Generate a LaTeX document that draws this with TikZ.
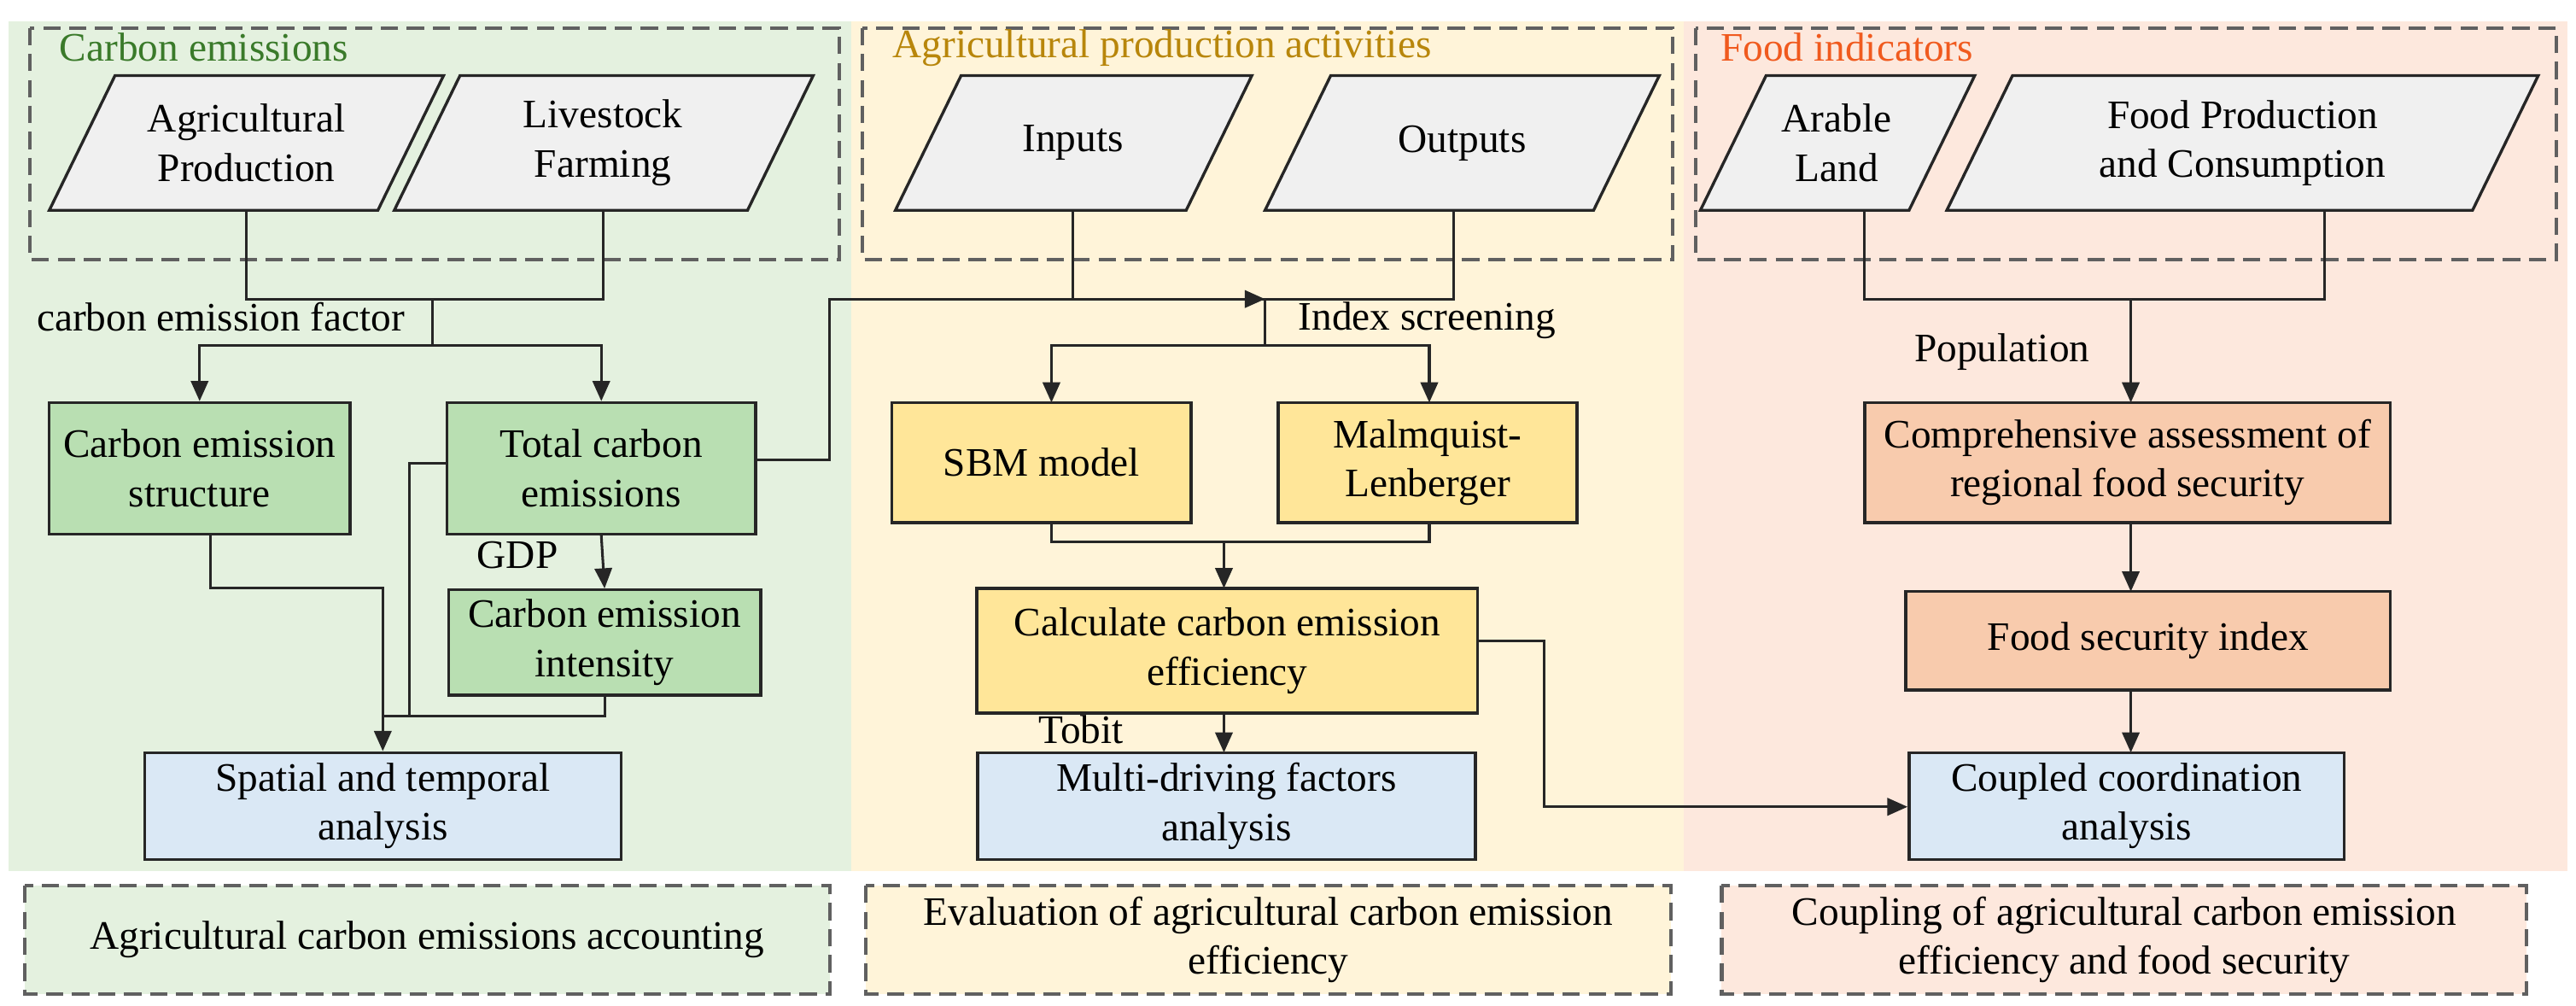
\documentclass[tikz,border=0pt]{standalone}
\usepackage{fontspec}
\setmainfont{Liberation Serif}
\usetikzlibrary{arrows.meta}
\definecolor{bgG}{HTML}{E4F1DF}
\definecolor{bgY}{HTML}{FFF4D9}
\definecolor{bgP}{HTML}{FDE8DD}
\definecolor{bxG}{HTML}{B9DFB2}
\definecolor{bxY}{HTML}{FFE699}
\definecolor{bxP}{HTML}{F8CBAD}
\definecolor{bxB}{HTML}{DAE8F5}
\definecolor{para}{HTML}{F0F0F0}
\definecolor{tG}{HTML}{3A7A2A}
\definecolor{tY}{HTML}{B8860B}
\definecolor{tP}{HTML}{F05A1E}
\definecolor{dsh}{HTML}{606060}
\tikzset{
 x=0.02cm,y=-0.02cm,
 every node/.style={font=\fontsize{14}{17}\selectfont, align=center, inner sep=0pt},
 box/.style 2 args={draw=black!85, line width=1pt, minimum width={#1*0.02cm}, minimum height={#2*0.02cm}},
 dbox/.style={draw=dsh, dashed, dash pattern=on 6pt off 3pt, line width=1.2pt},
 pgram/.style={draw=black!85, line width=1pt, fill=para},
 conn/.style={line width=0.9pt, draw=black!85},
 arr/.style={conn, -{Triangle[length=7pt,width=6pt]}},
 lbl/.style={font=\fontsize{14}{17}\selectfont},
}
\begin{document}
\begin{tikzpicture}
\useasboundingbox (0,0) rectangle (1568,612);
% backgrounds
\fill[bgG] (5,13) rectangle (518,530);
\fill[bgY] (518,13) rectangle (1025,530);
\fill[bgP] (1025,13) rectangle (1563,530);
% top dashed groups
\draw[dbox] (18,17) rectangle (511,158);
\draw[dbox] (525,17) rectangle (1018,158);
\draw[dbox] (1032,17) rectangle (1556,158);
\node[anchor=west,text=tG] (t1) at (36,29) {Carbon emissions};
\node[anchor=west,text=tY] (t2) at (543,29) {Agricultural production activities};
\node[anchor=west,text=tP] (t3) at (1047,29) {Food indicators};
% parallelograms
\draw[pgram] (30,128) -- (70,46) -- (270,46) -- (230,128) -- cycle;
\node (ap) at (150,87) {Agricultural\\Production};
\draw[pgram] (240,128) -- (280,46) -- (495,46) -- (455,128) -- cycle;
\node (lf) at (367,87) {Livestock\\Farming};
\draw[pgram] (545,128) -- (585,46) -- (762,46) -- (722,128) -- cycle;
\node (in) at (653,87) {Inputs};
\draw[pgram] (770,128) -- (810,46) -- (1010,46) -- (970,128) -- cycle;
\node (out) at (890,87) {Outputs};
\draw[pgram] (1035,128) -- (1075,46) -- (1202,46) -- (1162,128) -- cycle;
\node (al) at (1118,87) {Arable\\Land};
\draw[pgram] (1185,128) -- (1225,46) -- (1545,46) -- (1505,128) -- cycle;
\node (fp) at (1365,87) {Food Production\\and Consumption};
% boxes
\node[box={183}{80}, fill=bxG] (ces) at (121.5,285) {Carbon emission\\structure};
\node[box={188}{80}, fill=bxG] (tce) at (366,285) {Total carbon\\emissions};
\node[box={190}{64}, fill=bxG] (cei) at (368,391) {Carbon emission\\intensity};
\node[box={290}{65}, fill=bxB] (sta) at (233,490.5) {Spatial and temporal\\analysis};
\node[box={182}{73}, fill=bxY] (sbm) at (634,281.5) {SBM model};
\node[box={182}{73}, fill=bxY] (ml) at (869,281.5) {Malmquist-\\Lenberger};
\node[box={305}{76}, fill=bxY] (cce) at (747,396) {Calculate carbon emission\\efficiency};
\node[box={303}{65}, fill=bxB] (mdf) at (746.5,490.5) {Multi-driving factors\\analysis};
\node[box={320}{73}, fill=bxP] (cas) at (1295,281.5) {Comprehensive assessment of\\regional food security};
\node[box={295}{60}, fill=bxP] (fsi) at (1307.5,390) {Food security index};
\node[box={265}{65}, fill=bxB] (cca) at (1294.5,490.5) {Coupled coordination\\analysis};
% bottom dashed boxes
\draw[dbox, fill=bgG] (15,539) rectangle (505,605);
\draw[dbox, fill=bgY] (527,539) rectangle (1017,605);
\draw[dbox, fill=bgP] (1048,539) rectangle (1538,605);
\node (b1) at (260,572) {Agricultural carbon emissions accounting};
\node (b2) at (772,572) {Evaluation of agricultural carbon emission\\efficiency};
\node (b3) at (1293,572) {Coupling of agricultural carbon emission\\efficiency and food security};
% connectors left
\coordinate (j1) at (263,182);
\draw[conn] (150,128) |- (j1) -| (367,128);
\draw[conn] (j1) -- (263,210);
\draw[arr] (263,210) -| (ces.north);
\draw[arr] (263,210) -| (tce.north);
\node[lbl,anchor=west] (cef) at (22,193) {carbon emission factor};
\draw[arr] (tce.south) -- (cei.north);
\node[lbl] (gdp) at (315,338) {GDP};
\draw[arr] (128,325) |- (233,358) -- (sta.north);
\draw[conn] (tce.west |- 0,282) -- (249,282) |- (233,436);
\draw[conn] (cei.south) |- (233,436);
% middle
\coordinate (j2) at (770,182);
\draw[conn] (653,128) |- (j2) -| (885,128);
\draw[conn] (j2) -- (770,210);
\draw[arr] (770,210) -| (640,245);
\draw[arr] (770,210) -| (870,245);
\draw[arr] (tce.east |- 0,280) -- (505,280) |- (j2);
\node[lbl,anchor=west] (isc) at (790,195) {Index screening};
\coordinate (j3) at (745,330);
\draw[conn] (640,318) |- (j3) -| (870,318);
\draw[arr] (j3) -- (745,358);
\draw[arr] (745,434) -- (745,458);
\node[lbl] (tob) at (658,444) {Tobit};
\draw[arr] (cce.east |- 0,390) -- (940,390) |- (cca.west |- 0,491);
% right
\coordinate (j4) at (1297,182);
\draw[conn] (1135,128) |- (j4) -| (1415,128);
\draw[arr] (j4) -- (1297,245);
\node[lbl,anchor=west] (pop) at (1165,214) {Population};
\draw[arr] (1297,318) -- (1297,360);
\draw[arr] (1297,420) -- (1297,458);
\end{tikzpicture}
\end{document}
